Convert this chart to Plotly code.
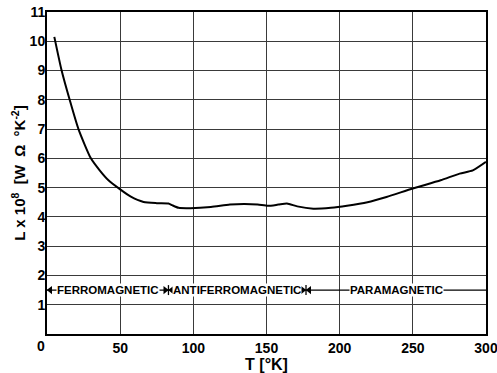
import plotly.graph_objects as go

# Data
T = [5, 10, 15.5, 21.5, 30, 36, 42, 50, 57, 66, 75, 83, 85.5, 90, 98, 112, 125, 135,
     144, 151, 158, 164, 171, 182, 194, 205, 219, 232, 250, 269, 282, 291, 300]
L = [10.15, 9.0, 8.0, 7.0, 6.0, 5.59, 5.25, 4.94, 4.70, 4.51, 4.47, 4.46, 4.40, 4.31,
     4.30, 4.34, 4.42, 4.44, 4.42, 4.38, 4.42, 4.46, 4.36, 4.28, 4.31, 4.38, 4.50,
     4.68, 4.97, 5.25, 5.48, 5.59, 5.88]

x_ticks = [50, 100, 150, 200, 250, 300]
y_ticks = [1, 2, 3, 4, 5, 6, 7, 8, 9, 10, 11]

region_names = ["FERROMAGNETIC", "ANTIFERROMAGNETIC", "PARAMAGNETIC"]
region_bounds = [0, 83, 177, 300]
band_y = 1.5

FONT = "Liberation Sans, Arial, sans-serif"

fig = go.Figure()
fig.add_trace(go.Scatter(x=T, y=L, mode="lines",
                         line=dict(color="black", width=2, shape="spline", smoothing=0.6),
                         hoverinfo="skip", showlegend=False))

shapes = []
annotations = []
left_tips, right_tips = [], []
for i, name in enumerate(region_names):
    a, b = region_bounds[i], region_bounds[i + 1]
    shapes.append(dict(type="line", xref="x", yref="y", x0=a, x1=b, y0=band_y, y1=band_y,
                       line=dict(color="black", width=1.2)))
    left_tips.append(a)
    if i < len(region_names) - 1:
        right_tips.append(b)
    annotations.append(dict(x=(a + b) / 2, y=band_y, xref="x",
                            yref="y", text=name, showarrow=False, bgcolor="white",
                            borderpad=0,
                            font=dict(family=FONT, size=11.5, color="black", weight="bold")))

# arrowheads
fig.add_trace(go.Scatter(x=[v + 2.2 for v in left_tips], y=[band_y] * len(left_tips),
                         mode="markers", marker=dict(symbol="triangle-left", size=7,
                                                     color="black", line=dict(width=0)),
                         hoverinfo="skip", showlegend=False))
fig.add_trace(go.Scatter(x=[v - 2.2 for v in right_tips], y=[band_y] * len(right_tips),
                         mode="markers", marker=dict(symbol="triangle-right", size=7,
                                                     color="black", line=dict(width=0)),
                         hoverinfo="skip", showlegend=False))

for bnd in region_bounds[1:-1]:
    shapes.append(dict(type="line", xref="x", yref="y", x0=bnd, x1=bnd,
                       y0=band_y - 0.17, y1=band_y + 0.17,
                       line=dict(color="black", width=1.3)))

# corner zero label
annotations.append(dict(x=0, y=0, xref="x", yref="y", text="0", showarrow=False,
                        xanchor="center", yanchor="top", xshift=-6.5, yshift=-2,
                        font=dict(family=FONT, size=14, color="black", weight="bold")))

fig.update_layout(
    width=497, height=373,
    margin=dict(l=47, r=11, t=12, b=39),
    paper_bgcolor="white", plot_bgcolor="white",
    font=dict(family=FONT, size=14, color="black", weight="bold"),
    annotations=annotations, shapes=shapes,
    showlegend=False,
)
fig.update_xaxes(range=[0, 300], tickvals=x_ticks, ticktext=[str(v) for v in x_ticks],
                 showgrid=True, gridcolor="#3a3a3a", gridwidth=1.3,
                 showline=True, linecolor="black", linewidth=2, mirror=True,
                 ticks="", zeroline=False, automargin=False, ticklabeloverflow="allow",
                 tickfont=dict(weight="bold"),
                 title=dict(text="T [°K]", font=dict(size=16, weight="bold"), standoff=0))
fig.update_yaxes(range=[0, 11], tickvals=y_ticks, ticktext=[str(v) for v in y_ticks],
                 showgrid=True, gridcolor="#3a3a3a", gridwidth=1.3,
                 showline=True, linecolor="black", linewidth=2, mirror=True,
                 ticks="", zeroline=False, automargin=False, ticklabeloverflow="allow",
                 ticklabelstandoff=-3, tickfont=dict(weight="bold"),
                 title=dict(text="L x 10<sup>8</sup>\u00a0 [W\u00a0 Ω\u00a0 °K<sup>-2</sup>]",
                            font=dict(size=15, weight="bold"), standoff=0))

fig.write_html("out.html", config={"displayModeBar": False},
               post_script="document.body.style.margin='0';")
